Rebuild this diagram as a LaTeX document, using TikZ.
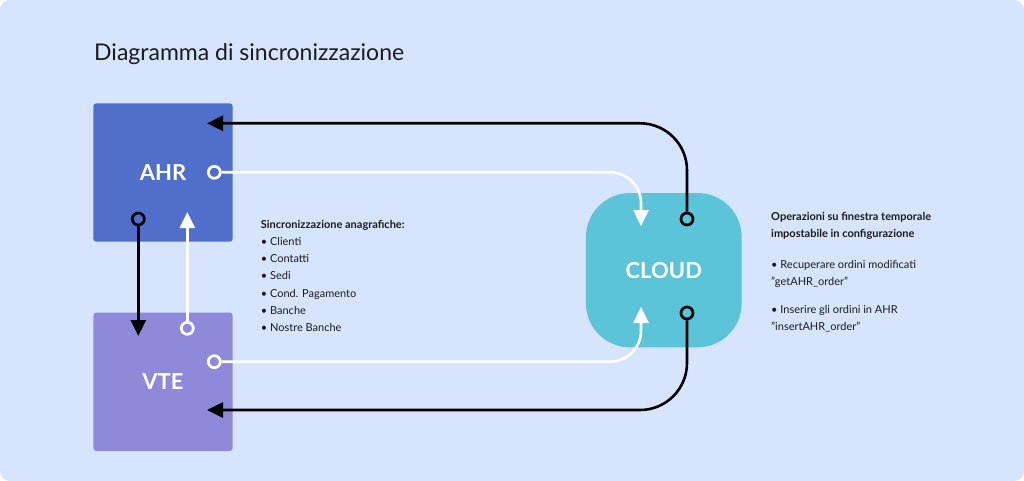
\documentclass[tikz,border=0pt]{standalone}
\usepackage{fontspec}
\setmainfont{Lato}
\usetikzlibrary{arrows.meta}
\definecolor{bgc}{HTML}{D6E4FD}
\definecolor{ahrc}{HTML}{506FCB}
\definecolor{vtec}{HTML}{8F89D9}
\definecolor{cloudc}{HTML}{5BC4D8}
\definecolor{txtc}{HTML}{1C1C1C}
\tikzset{
  box/.style={rectangle, rounded corners=3pt, inner sep=0pt, minimum width=139.4pt, minimum height=138.4pt, text=white, font=\fontsize{22}{26}\selectfont\bfseries},
  port/.style={circle, line width=2.7pt, minimum size=12pt, inner sep=0pt},
  blk/.style={draw=black, line width=2.6pt, -{Triangle[length=16pt,width=15pt]}},
  wht/.style={draw=white, line width=2.6pt, -{Triangle[length=16pt,width=15pt]}},
  txt/.style={anchor=base west, inner sep=0pt, text=txtc, font=\fontsize{11}{13}\selectfont},
  txtb/.style={txt, font=\fontsize{11}{13}\selectfont\bfseries}
}
\begin{document}
\begin{tikzpicture}[x=1pt,y=-1pt]
\useasboundingbox (0,0) rectangle (1024,481);
\fill[white] (0,0) rectangle (1024,481);
\fill[bgc, rounded corners=10pt] (0,0) rectangle (1024,481);

\node[anchor=base west, inner sep=0pt, text=txtc, font=\fontsize{23}{27}\selectfont] (title) at (94,61) {Diagramma di sincronizzazione};

\node[box, fill=ahrc] (ahr) at (163,172.5) {AHR};
\node[box, fill=vtec] (vte) at (163,381.8) {VTE};
\node[rectangle, rounded corners=44pt, fill=cloudc, minimum width=155.7pt, minimum height=154.3pt, inner sep=0pt, text=white, font=\fontsize{22}{26}\selectfont\bfseries] (cloud) at (663.8,270.2) {CLOUD};

\coordinate (ahrin) at (207,123.3);
\coordinate (vtein) at (207,410);
\coordinate (vtetop) at (138.3,336);
\coordinate (ahrbot) at (187.3,212);
\coordinate (cloudin1) at (641,226);
\coordinate (cloudin2) at (641,307);

\node[port, draw=black, fill=ahrc] (ahrdown) at (138.3,219) {};
\node[port, draw=white, fill=ahrc] (ahrright) at (214.3,172.3) {};
\node[port, draw=white, fill=vtec] (vteup) at (187.3,328.3) {};
\node[port, draw=white, fill=vtec] (vteright) at (214.3,361.7) {};
\node[port, draw=black, fill=cloudc] (cloudtop) at (687,219) {};
\node[port, draw=black, fill=cloudc] (cloudbot) at (687,313) {};

\draw[blk, rounded corners=47pt] (cloudtop) |- (ahrin);
\draw[wht, rounded corners=31pt] (ahrright) -| (cloudin1);
\draw[blk] (ahrdown) -- (vtetop);
\draw[wht] (vteup) -- (ahrbot);
\draw[wht, rounded corners=31pt] (vteright) -| (cloudin2);
\draw[blk, rounded corners=47pt] (cloudbot) |- (vtein);

\node[txtb] (synchead) at (260.7,228) {Sincronizzazione anagrafiche:};
\node[txt] (s1) at (260.7,245.6) {• Clienti};
\node[txt] (s2) at (260.7,262.7) {• Contatti};
\node[txt] (s3) at (260.7,279.9) {• Sedi};
\node[txt] (s4) at (260.7,297.0) {• Cond. Pagamento};
\node[txt] (s5) at (260.7,314.2) {• Banche};
\node[txt] (s6) at (260.7,331.3) {• Nostre Banche};

\node[txtb] (ophead1) at (771,220) {Operazioni su finestra temporale};
\node[txtb] (ophead2) at (771,237.3) {impostabile in configurazione};
\node[txt] (op1) at (771,268) {• Recuperare ordini modificati};
\node[txt] (op1b) at (771,285.2) {"getAHR\_order"};
\node[txt] (op2) at (771,313.3) {• Inserire gli ordini in AHR};
\node[txt] (op2b) at (771,330.5) {"insertAHR\_order"};
\end{tikzpicture}
\end{document}
